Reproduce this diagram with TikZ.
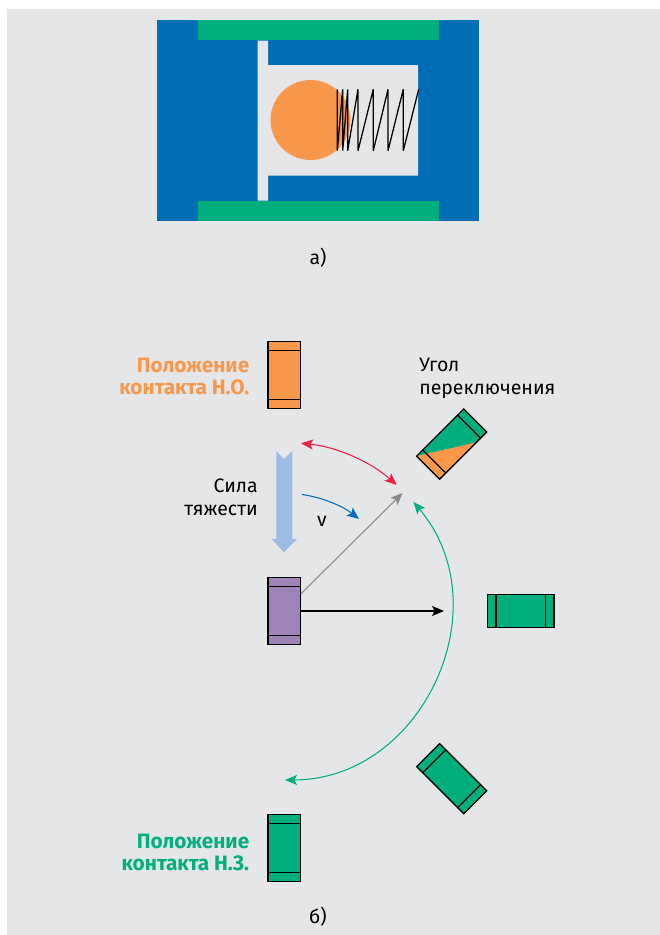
\documentclass[tikz,border=0pt]{standalone}
\usepackage{fontspec}
\setmainfont{Fira Sans}
\usetikzlibrary{arrows.meta,calc}

\definecolor{panelgray}{HTML}{E5E6E8}
\definecolor{bodyblue}{HTML}{006DB7}
\definecolor{contactgreen}{HTML}{00AE7E}
\definecolor{contactorange}{HTML}{F9984A}
\definecolor{contactpurple}{HTML}{A082BA}
\definecolor{arcred}{HTML}{EE2044}
\definecolor{forceblue}{HTML}{9DBCE3}
\definecolor{rodgray}{HTML}{8A8A8A}

\tikzset{
  contact/.style={draw=black,line width=0.9pt,inner sep=0pt,outer sep=0pt,
    minimum width=24.4pt,minimum height=50pt},
  label/.style={inner sep=0pt,font=\fontsize{14.6}{16.9}\selectfont},
  boldlabel/.style={label,font=\fontsize{15.6}{16.9}\selectfont\bfseries},
  swing/.style={line width=0.8pt,-{Stealth[length=9pt,width=7.5pt,inset=2pt]}},
  swingboth/.style={line width=0.8pt,{Stealth[length=9pt,width=7.5pt,inset=2pt]}-{Stealth[length=9pt,width=7.5pt,inset=2pt]}}
}

\begin{document}
\begin{tikzpicture}[x=0.75pt,y=0.75pt,yscale=-1,xscale=1]
\useasboundingbox (0,0) rectangle (660,935);

%Panel
\fill [panelgray] (7,9) rectangle (660,935);

%Switch body
\fill [bodyblue] (157,20) rectangle (478.5,220.5);
\fill [contactgreen] (197.5,20) rectangle (438.5,40);
\fill [contactgreen] (197.5,200.5) rectangle (438.5,220.5);
\fill [panelgray] (257.5,40.5) -- (268,40.5) -- (268,65) -- (418,65) -- (418,175.5) -- (268,175.5) -- (268,200.5) -- (257.5,200.5) -- cycle;

%Ball
\fill [contactorange] (310.5,120) circle [radius=40];

%Spring
\draw [line width=0.95pt,line join=bevel] (337.3,89.3) -- (337.3,150.7) -- (342.7,89.3) -- (342.7,150.7) -- (347.7,89.3) -- (347.7,150.7) -- (358,89.3) -- (358,150.7) -- (373.3,89.3) -- (373.3,150.7) -- (388,89.3) -- (388,150.7) -- (403.3,89.3) -- (403.3,150.7) -- (418.7,89.3);

%Force arrow
\fill [forceblue] (276.3,451) -- (284,459) -- (292.3,451) -- (292.3,539) -- (297,539) -- (284,552.3) -- (271.7,539) -- (276.3,539) -- cycle;

%Contacts
\node [contact,fill=contactorange] (contactNO) at (284.3,375) {};
\node [contact,fill=contactpurple] (contactMid) at (284.3,611) {};
\node [contact,fill=contactgreen] (contactNC) at (284.3,848) {};
\node [contact,fill=contactgreen,rotate=90] (contactRight) at (520.7,611) {};
\node [contact,fill=contactgreen,rotate=45] (contactLow) at (451.7,778.7) {};
\node [contact,fill=contactgreen,rotate=-45] (contactUp) at (451.7,444) {};
\fill [contactorange] (contactUp.south west) -- ($(contactUp.north east)!0.22!(contactUp.south east)$) -- (contactUp.south east) -- cycle;
\draw [line width=0.9pt] (contactUp.south west) -- (contactUp.south east) -- (contactUp.north east);

\foreach \c in {contactNO,contactMid,contactNC,contactRight,contactLow,contactUp} {
  \draw [line width=0.9pt] ($(\c.north west)!0.13!(\c.south west)$) -- ($(\c.north east)!0.13!(\c.south east)$);
  \draw [line width=0.9pt] ($(\c.south west)!0.13!(\c.north west)$) -- ($(\c.south east)!0.13!(\c.north east)$);
}

%Arrow ends
\coordinate (redStart) at (301,443.3);
\coordinate (redEnd) at (396.7,485);
\coordinate (blueStart) at (302,494.5);
\coordinate (blueEnd) at (359,519);
\coordinate (grayStart) at (300.8,594);
\coordinate (grayEnd) at (402.5,493);
\coordinate (blackEnd) at (444,611);
\coordinate (greenStart) at (413.5,502);
\coordinate (greenEnd) at (285,780);

%Arrows
\draw [swingboth,arcred] (redStart) to [bend right=18,looseness=0.87] (redEnd);
\draw [swing,bodyblue] (blueStart) to [bend right=15,looseness=0.87] (blueEnd);
\draw [swing,rodgray] (grayStart) -- (grayEnd);
\draw [swing,black] (contactMid.east) -- (blackEnd);
\draw [swingboth,contactgreen] (greenStart) to [bend right=65,looseness=1.15] (greenEnd);

% Text Node
\node [label,anchor=base] (labelA) at (318,264) {а)};
% Text Node
\node [label,anchor=base] (labelB) at (318,923) {б)};
% Text Node
\node [label,anchor=base] (labelV) at (322,526) {v};
% Text Node
\node [boldlabel,text=contactorange,align=right,anchor=north east] (labelNO) at (249.5,357.5) {Положение\\контакта Н.О.};
% Text Node
\node [boldlabel,text=contactgreen,align=right,anchor=north east] (labelNC) at (249.5,833.5) {Положение\\контакта Н.З.};
% Text Node
\node [label,align=right,anchor=north east] (labelForce) at (258,479) {Сила\\тяжести};
% Text Node
\node [label,align=left,anchor=north west] (labelAngle) at (419,358) {Угол\\переключения};

\end{tikzpicture}
\end{document}
